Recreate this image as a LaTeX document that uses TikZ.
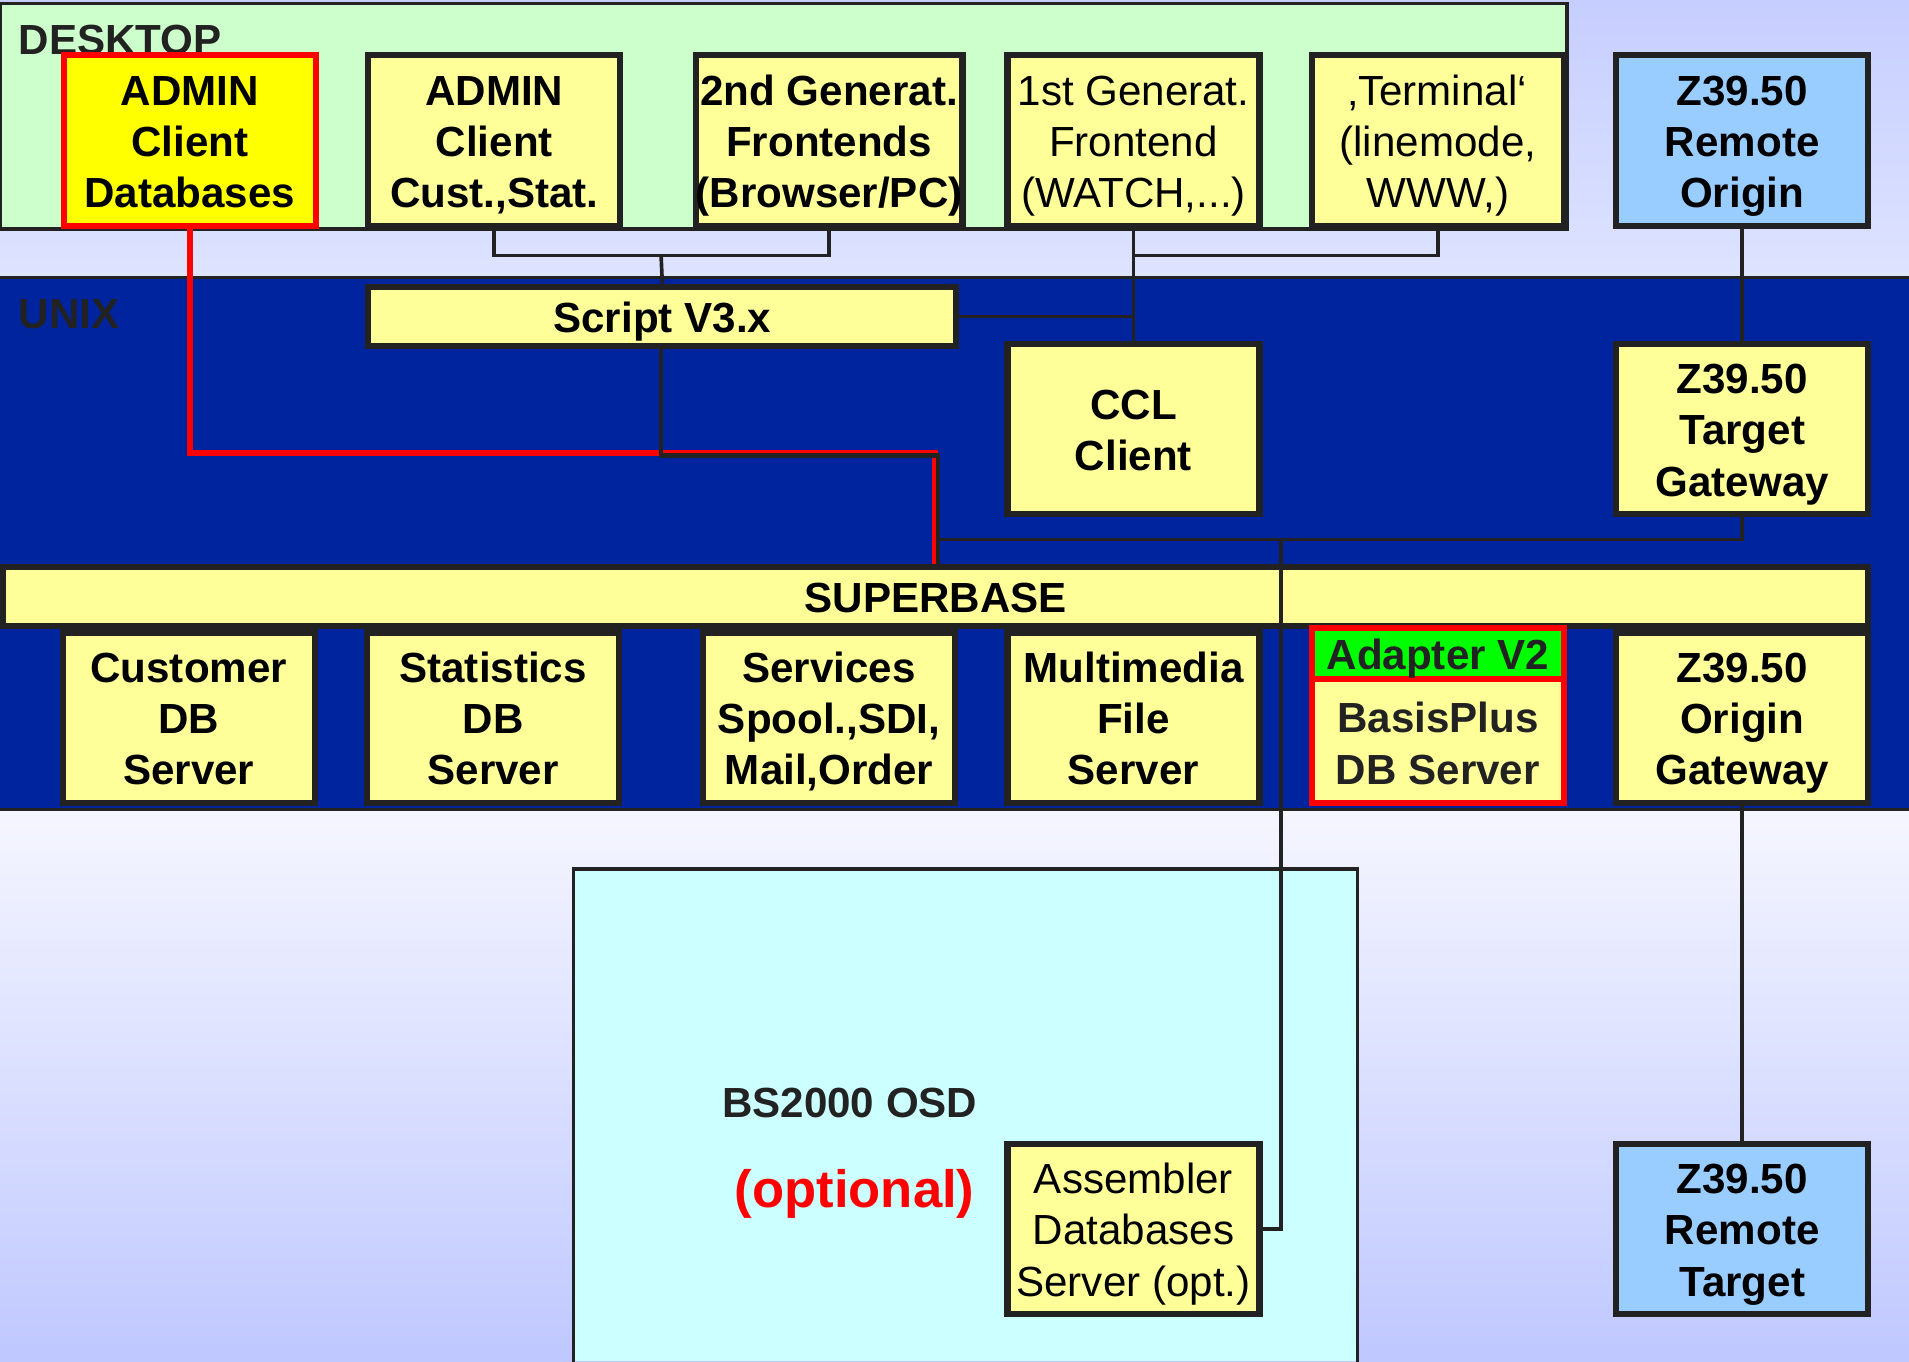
\documentclass[tikz,border=0pt]{standalone}
\usepackage{fontspec}
\setmainfont{Liberation Sans}
\usetikzlibrary{calc}
\definecolor{ylw}{HTML}{FFFF99}
\definecolor{ylwb}{HTML}{FFFF00}
\definecolor{unixblue}{HTML}{00249E}
\definecolor{deskgreen}{HTML}{CCFFCC}
\definecolor{ltblue}{HTML}{99CCFF}
\definecolor{bscyan}{HTML}{CCFFFF}
\definecolor{lk}{HTML}{222222}
\definecolor{rd}{HTML}{FF0000}
\definecolor{gr}{HTML}{00FF00}
\newcommand\bxt[1]{\raisebox{-2.3pt}[\height][\depth]{\begin{tabular}{@{}c@{}}#1\end{tabular}}}
\tikzset{
  fnt/.style={font=\fontsize{17.3pt}{21pt}\selectfont\bfseries},
  fntn/.style={font=\fontsize{17.3pt}{21pt}\selectfont},
  box/.style={draw=lk, line width=2.5pt, fill=ylw, minimum width=103.5pt, minimum height=70pt, inner sep=0pt, fnt},
  redbox/.style={box, draw=rd},
  bluebox/.style={box, fill=ltblue},
  bar/.style={draw=lk, line width=2.5pt, fill=ylw, minimum height=24.5pt, inner sep=0pt, fnt},
  conn/.style={draw=lk, line width=1.5pt},
  redconn/.style={draw=rd, line width=2.2pt},
  blkconn/.style={draw=lk, line width=1.8pt},
  panel/.style={draw=lk, line width=1.5pt},
  lbl/.style={fnt, text=lk, inner sep=0pt}
}
\begin{document}
\begin{tikzpicture}[x=0.5pt,y=-0.5pt]
\useasboundingbox (0,0) rectangle (1568,1118);
% background
\shade[top color={rgb,255:red,198;green,206;blue,255}, bottom color={rgb,255:red,222;green,227;blue,255}] (0,0) rectangle (1568,228);
\shade[top color={rgb,255:red,245;green,246;blue,255}, bottom color={rgb,255:red,191;green,200;blue,255}] (0,665) rectangle (1568,1118);
% desktop panel
\fill[deskgreen] (0,3) rectangle (1287,188);
\draw[panel] (0,3) rectangle (1287,188);
\node[lbl, anchor=west] (desklbl) at (15,33) {DESKTOP};
% unix band
\fill[unixblue] (0,228) rectangle (1568,665);
\draw[panel] (0,228) -- (1568,228);
\draw[panel] (0,665) -- (1568,665);
\node[lbl, anchor=west] (unixlbl) at (15,258) {UNIX};
% BS2000 panel
\fill[bscyan] (471,714) rectangle (1115,1118);
\draw[panel] (471,1120) -- (471,714) -- (1115,714) -- (1115,1120);
\node[lbl] (bslbl) at (698,906) {BS2000 OSD};
\node[font=\fontsize{21.6pt}{26pt}\selectfont\bfseries, text=rd, inner sep=0pt] (optlbl) at (702,981) {(optional)};

% row 1
\node[redbox, fill=ylwb] (adminDB) at (156,115.5) {\bxt{ADMIN\\Client\\Databases}};
\node[box] (adminCS) at (406,115.5) {\bxt{ADMIN\\Client\\Cust.,Stat.}};
\node[box] (gen2) at (681,115.5) {\bxt{2nd Generat.\\Frontends\\(Browser/PC)}};
\node[box, fntn] (gen1) at (931,115.5) {\bxt{1st Generat.\\Frontend\\(WATCH,...)}};
\node[box, fntn] (term) at (1181,115.5) {\bxt{‚Terminal‘\\(linemode,\\WWW,)}};
\node[bluebox] (zro) at (1431,115.5) {\bxt{Z39.50\\Remote\\Origin}};

% unix upper
\node[bar, minimum width=241.5pt] (script) at (544,260) {\bxt{Script V3.x}};
\node[box] (ccl) at (931,352.5) {\bxt{CCL\\Client}};
\node[box] (ztg) at (1431,352.5) {\bxt{Z39.50\\Target\\Gateway}};

% superbase
\node[bar, minimum width=766pt] (sb) at (768.5,490) {\bxt{SUPERBASE}};

% bottom row
\node[box] (cust) at (155,589.5) {\bxt{Customer\\DB\\Server}};
\node[box] (stat) at (405,589.5) {\bxt{Statistics\\DB\\Server}};
\node[box] (serv) at (681,589.5) {\bxt{Services\\Spool.,SDI,\\Mail,Order}};
\node[box] (mm) at (931,589.5) {\bxt{Multimedia\\File\\Server}};
\node[redbox] (basis) at (1181,589.5) {};
\node[draw=rd, line width=2.5pt, fill=gr, minimum width=103.5pt, minimum height=17.5pt, inner sep=0pt, fnt, text=lk] (adapter) at (1181,536.5) {\bxt{Adapter V2}};
\node[fnt, text=lk, inner sep=0pt] (basistxt) at (1181,610) {\bxt{BasisPlus\\DB Server}};
\node[box] (zog) at (1431,589.5) {\bxt{Z39.50\\Origin\\Gateway}};

% lower
\node[bluebox] (zrt) at (1431,1009.5) {\bxt{Z39.50\\Remote\\Target}};
\node[box, fntn] (asm) at (931,1009.5) {\bxt{Assembler\\Databases\\Server (opt.)}};

% connectors
\coordinate (j1) at (543,210);
\coordinate (j2) at (931,210);
\coordinate (jr) at (768,372);
\coordinate (jb) at (770.5,374);
\coordinate (jg) at (770,443);
\coordinate (jv) at (1052,443);

\draw[conn] (adminCS.south) |- (j1) -| (gen2.south);
\draw[conn] (j1) -- (script.north);
\draw[conn] (gen1.south) |- (j2) -| (term.south);
\draw[conn] (j2) -- (ccl.north);
\draw[conn] (script.east) -- (script.east -| ccl.north);
\draw[conn] (zro.south) -- (ztg.north);
\draw[redconn] (adminDB.south) |- (jr) -- (jr |- sb.north);
\draw[blkconn] (script.south -| j1) |- (jb) -- (jb |- sb.north);
\draw[conn] (ztg.south) |- (jg);
\draw[conn] (asm.east) -| (jv);
\draw[conn] (zog.south) -- (zrt.north);
\end{tikzpicture}
\end{document}
